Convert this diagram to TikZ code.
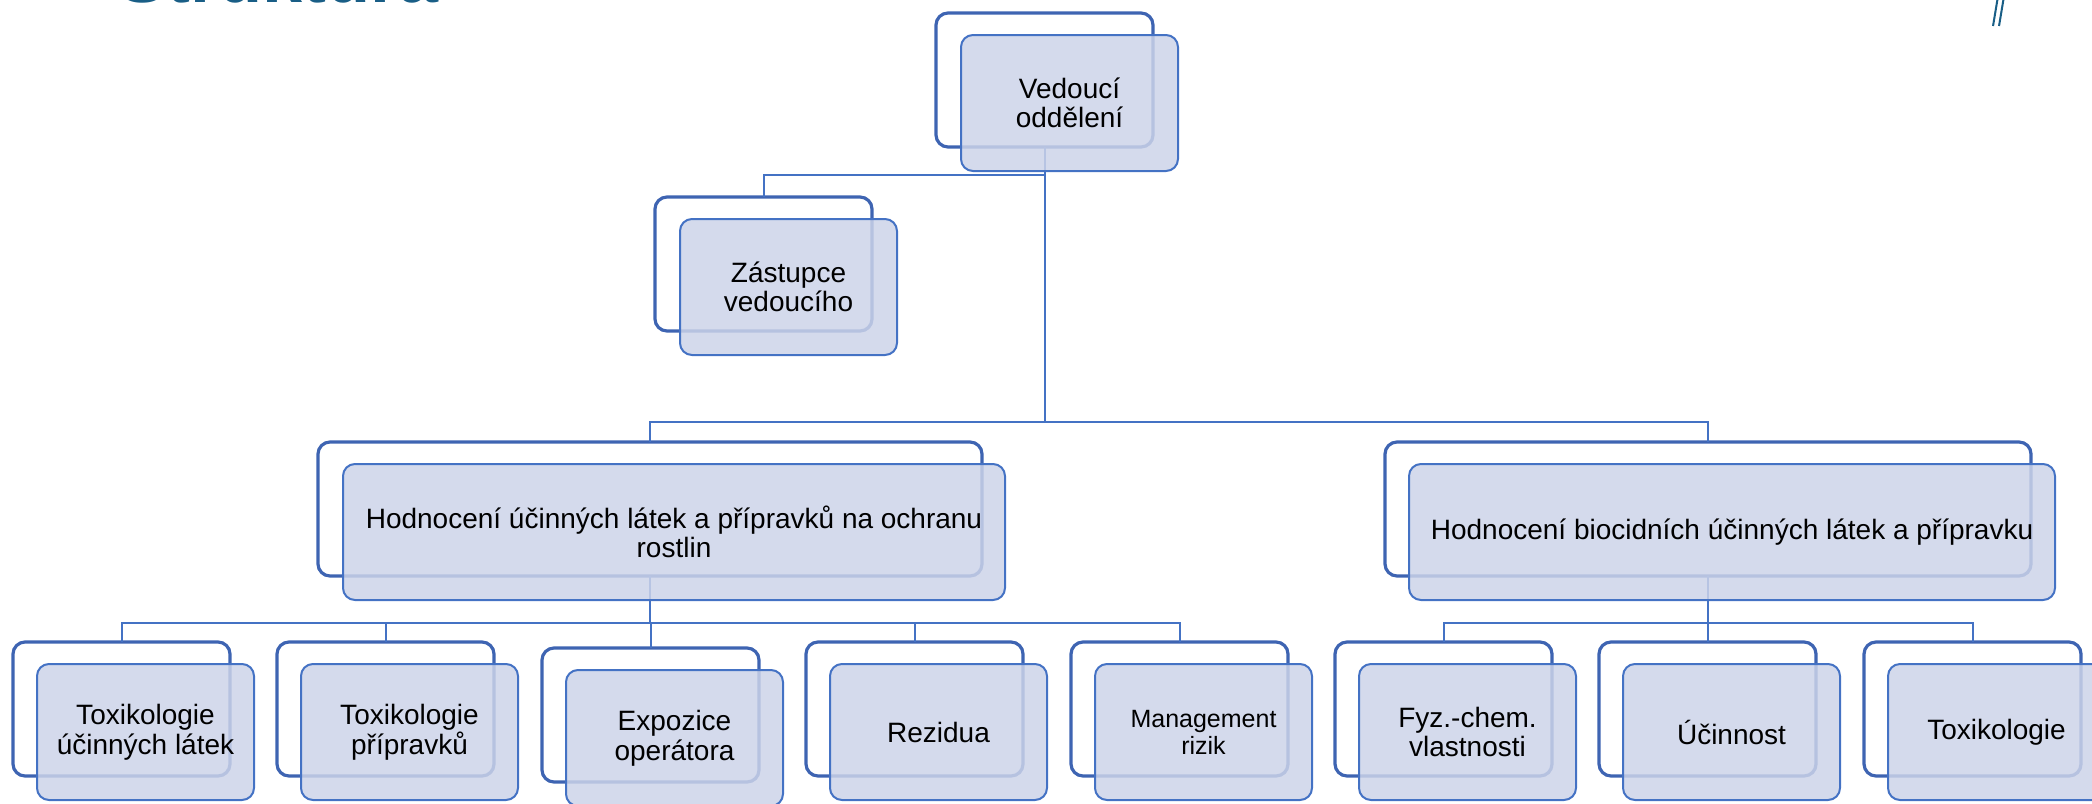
\documentclass[tikz,border=0pt]{standalone}
\usepackage{fontspec}
\setmainfont{Liberation Sans}
\definecolor{orgline}{RGB}{68,114,196}
\definecolor{orgback}{RGB}{62,100,178}
\definecolor{orgfill}{RGB}{204,211,233}
\definecolor{titleblue}{RGB}{25,94,134}
\newcommand{\boxfont}{\fontsize{14}{14.8}\selectfont}
\newcommand{\mgmtfont}{\fontsize{12.5}{13.5}\selectfont}
\tikzset{
  back/.style={draw=orgback, line width=1.6pt, rounded corners=6pt, anchor=north west,
    inner sep=0pt, outer sep=0pt, minimum width=108.5pt, minimum height=67pt},
  front/.style={draw=orgline, line width=1pt, fill=orgfill, fill opacity=0.85, text opacity=1,
    rounded corners=6pt, anchor=north west, inner sep=0pt, outer sep=0pt,
    minimum width=108.5pt, minimum height=68pt, align=center, font=\boxfont},
  conn/.style={draw=orgline, line width=1pt}
}
\begin{document}
\begin{tikzpicture}[x=0.5pt,y=-0.5pt]
\useasboundingbox (0,0) rectangle (2092,803);
\clip (0,0) rectangle (2092,803);
\node[anchor=base west, inner sep=0pt, text=titleblue, font=\fontsize{36}{36}\selectfont\bfseries] (title) at (118,3) {Struktura};
\draw[titleblue, line width=1pt] (1998,-4) -- (1993,26) (2004,-4) -- (1999,26);

% outlines behind
\node[back] (vedb) at (936,13) {};
\node[back] (zasb) at (655,197) {};
\node[back, minimum width=332pt] (porb) at (318,442) {};
\node[back, minimum width=323pt] (biob) at (1385,442) {};
\foreach \i/\x/\y in {1/13/642, 2/277/642, 3/542/648, 4/806/642, 5/1071/642,
                      6/1335/642, 7/1599/642, 8/1864/642}
  \node[back] (leafb\i) at (\x,\y) {};

% connectors
\coordinate (j0) at (1044.5,175);
\coordinate (j1) at (1044.5,422);
\draw[conn] (vedb.south) -- (j1);
\draw[conn] (j0) -| (zasb.north);
\draw[conn] (porb.north) |- (j1) -| (biob.north);
\foreach \i in {1,...,5}
  \draw[conn] (porb.south) -- ++(0,47) -| (leafb\i.north);
\foreach \i in {6,7,8}
  \draw[conn] (biob.south) -- ++(0,47) -| (leafb\i.north);

% filled boxes
\node[front] (ved) at ([shift={(25,22)}]vedb.north west) {Vedoucí\\oddělení};
\node[front] (zas) at ([shift={(25,22)}]zasb.north west) {Zástupce\\vedoucího};
\node[front, minimum width=331pt] (por) at ([shift={(25,22)}]porb.north west)
  {Hodnocení účinných látek a přípravků na ochranu\\rostlin};
\node[front, minimum width=323pt] (bio) at ([shift={(24,22)}]biob.north west)
  {Hodnocení biocidních účinných látek a přípravku};
\foreach \i/\fnt/\txt in {1/\boxfont/{Toxikologie\\účinných látek}, 2/\boxfont/{Toxikologie\\přípravků},
    3/\boxfont/{Expozice\\operátora}, 4/\boxfont/{Rezidua}, 5/\mgmtfont/{Management\\rizik},
    6/\boxfont/{Fyz.-chem.\\vlastnosti}, 7/\boxfont/{Účinnost}, 8/\boxfont/{Toxikologie}}
  \node[front, font=\fnt] (leaf\i) at ([shift={(24,22)}]leafb\i.north west) {\txt};
\end{tikzpicture}
\end{document}
